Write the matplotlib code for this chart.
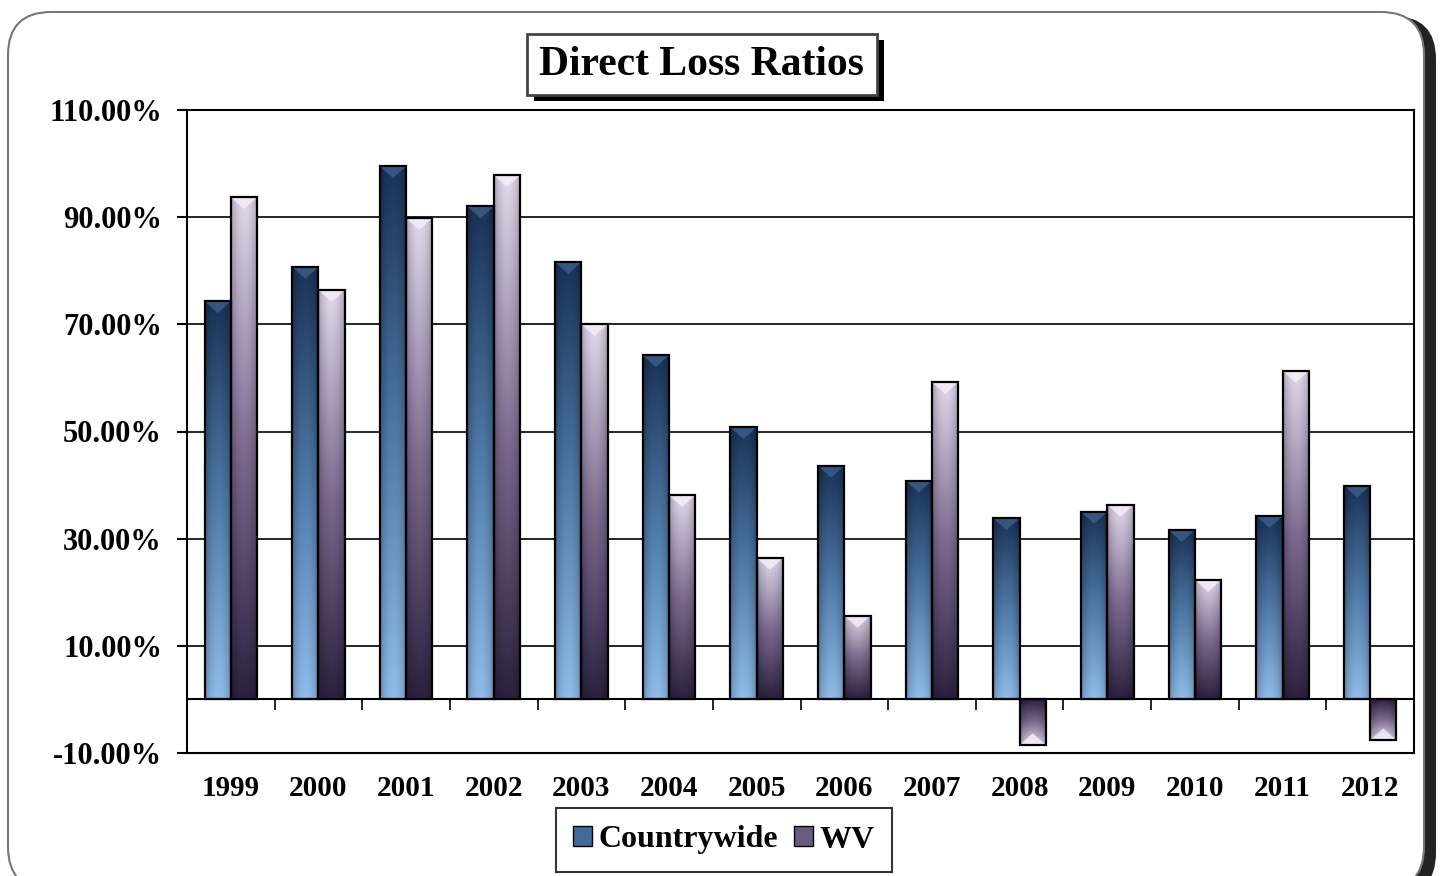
import numpy as np
import matplotlib
matplotlib.use('Agg')
import matplotlib.pyplot as plt
from matplotlib.patches import FancyBboxPatch, Rectangle, Patch, Polygon
from matplotlib.colors import LinearSegmentedColormap

years = ['1999', '2000', '2001', '2002', '2003', '2004', '2005',
         '2006', '2007', '2008', '2009', '2010', '2011', '2012']
countrywide = [74.3, 80.7, 99.5, 92.0, 81.6, 64.2, 50.8,
               43.6, 40.8, 33.8, 35.0, 31.6, 34.2, 39.9]
wv = [93.7, 76.4, 89.8, 97.8, 70.0, 38.1, 26.4,
      15.6, 59.2, -8.5, 36.3, 22.3, 61.3, -7.6]

plt.rcParams['font.family'] = 'Liberation Serif'
plt.rcParams['font.weight'] = 'bold'

fig = plt.figure(figsize=(14.4, 8.76), dpi=100)
W, H = 1440.0, 876.0

# outer rounded frame with shadow
shadow = FancyBboxPatch((14 / W, -20 / H), 1422 / W, 880 / H,
                        boxstyle='round,pad=0,rounding_size=0.03',
                        transform=fig.transFigure, facecolor='#222222',
                        edgecolor='none', zorder=0, mutation_aspect=W / H)
frame = FancyBboxPatch((8 / W, -14 / H), 1416 / W, 878 / H,
                       boxstyle='round,pad=0,rounding_size=0.03',
                       transform=fig.transFigure, facecolor='white',
                       edgecolor='#777777', linewidth=1.5, zorder=0.1,
                       mutation_aspect=W / H)
fig.patches.extend([shadow, frame])

ax = fig.add_axes([187 / W, 1 - 753 / H, (1414 - 187) / W, (753 - 110) / H])
ax.set_zorder(2)
ax.set_facecolor('none')

x = np.arange(len(years))
bw = 0.3
b1 = ax.bar(x - bw / 2, countrywide, bw, color='none', edgecolor='black', linewidth=1.6, zorder=3)
b2 = ax.bar(x + bw / 2, wv, bw, color='none', edgecolor='black', linewidth=1.6, zorder=3)

cw_cmap = LinearSegmentedColormap.from_list('cw', ['#8fbcea', '#4f7aa8', '#1a3358'])
wv_cmap = LinearSegmentedColormap.from_list('wv', ['#2e2140', '#7d6b90', '#e2d8ec'])

ax.set_xlim(-0.5, len(years) - 0.5)
ax.set_ylim(-10, 110)
cap = 2.2  # bevel depth in data units

for bars, cmap, capcol in ((b1, cw_cmap, '#3d5f8c'), (b2, wv_cmap, '#f6f0fa')):
    for bar in bars:
        bx, by = bar.get_x(), bar.get_y()
        bwid, bh = bar.get_width(), bar.get_height()
        t = np.linspace(0, 1, 100)[:, None]
        s = np.linspace(-1, 1, 40)[None, :]
        rgba = cmap(t * np.ones_like(s))
        shade = 1 - 0.25 * np.abs(s) ** 2
        rgba[..., :3] *= shade[..., None]
        if bh >= 0:
            ext = [bx, bx + bwid, by, by + bh]
            org = 'lower'
        else:
            ext = [bx, bx + bwid, by + bh, by]
            org = 'upper'
        im = ax.imshow(rgba, extent=ext, origin=org,
                       aspect='auto', zorder=2, interpolation='bilinear')
        im.set_clip_path(bar)
        end = by + bh
        d = cap if bh >= 0 else -cap
        tri = Polygon([[bx, end], [bx + bwid, end], [bx + bwid / 2, end - d]],
                      closed=True, facecolor=capcol, edgecolor='none', alpha=0.8, zorder=2.5)
        ax.add_patch(tri)

yt = [-10, 10, 30, 50, 70, 90, 110]
ax.set_yticks(yt)
ax.set_yticklabels(['{:.2f}%'.format(v) for v in yt], fontsize=22, fontweight='bold')
for v in yt[1:]:
    ax.axhline(v, color='black', linewidth=1.2, zorder=1)
ax.axhline(0, color='black', linewidth=1.5, zorder=4)
ax.vlines(np.arange(len(years) - 1) + 0.5, -1.9, 0, color='black', linewidth=1.2, zorder=4)

ax.set_xticks(x)
ax.set_xticklabels(years, fontsize=21, fontweight='bold')
ax.tick_params(axis='x', length=0, pad=16)
ax.tick_params(axis='y', direction='out', length=7, width=1.5, pad=11)
for sp in ax.spines.values():
    sp.set_linewidth(1.5)

# title box
fig.patches.append(Rectangle((534 / W, 1 - 101 / H), 350 / W, 61 / H,
                             transform=fig.transFigure, facecolor='black', zorder=5))
fig.patches.append(Rectangle((527 / W, 1 - 95 / H), 350 / W, 61 / H,
                             transform=fig.transFigure, facecolor='white',
                             edgecolor='#444444', linewidth=2, zorder=6))
fig.text(701 / W, 1 - 65 / H, 'Direct Loss Ratios', fontsize=30, fontweight='bold',
         ha='center', va='center', zorder=7)

handles = [Patch(facecolor='#3f6a9a', edgecolor='black'),
           Patch(facecolor='#6a5a80', edgecolor='black')]
leg = fig.legend(handles, ['Countrywide', 'WV'], loc='center',
                 bbox_to_anchor=(724 / W, 1 - 840 / H), ncol=2, fontsize=23,
                 frameon=True, fancybox=False, edgecolor='black',
                 handlelength=0.6, handleheight=0.6, handletextpad=0.2,
                 columnspacing=0.5, borderpad=0.55)
leg.get_frame().set_linewidth(1.5)
for t in leg.get_texts():
    t.set_fontweight('bold')

fig.savefig('out.png', dpi=100)
